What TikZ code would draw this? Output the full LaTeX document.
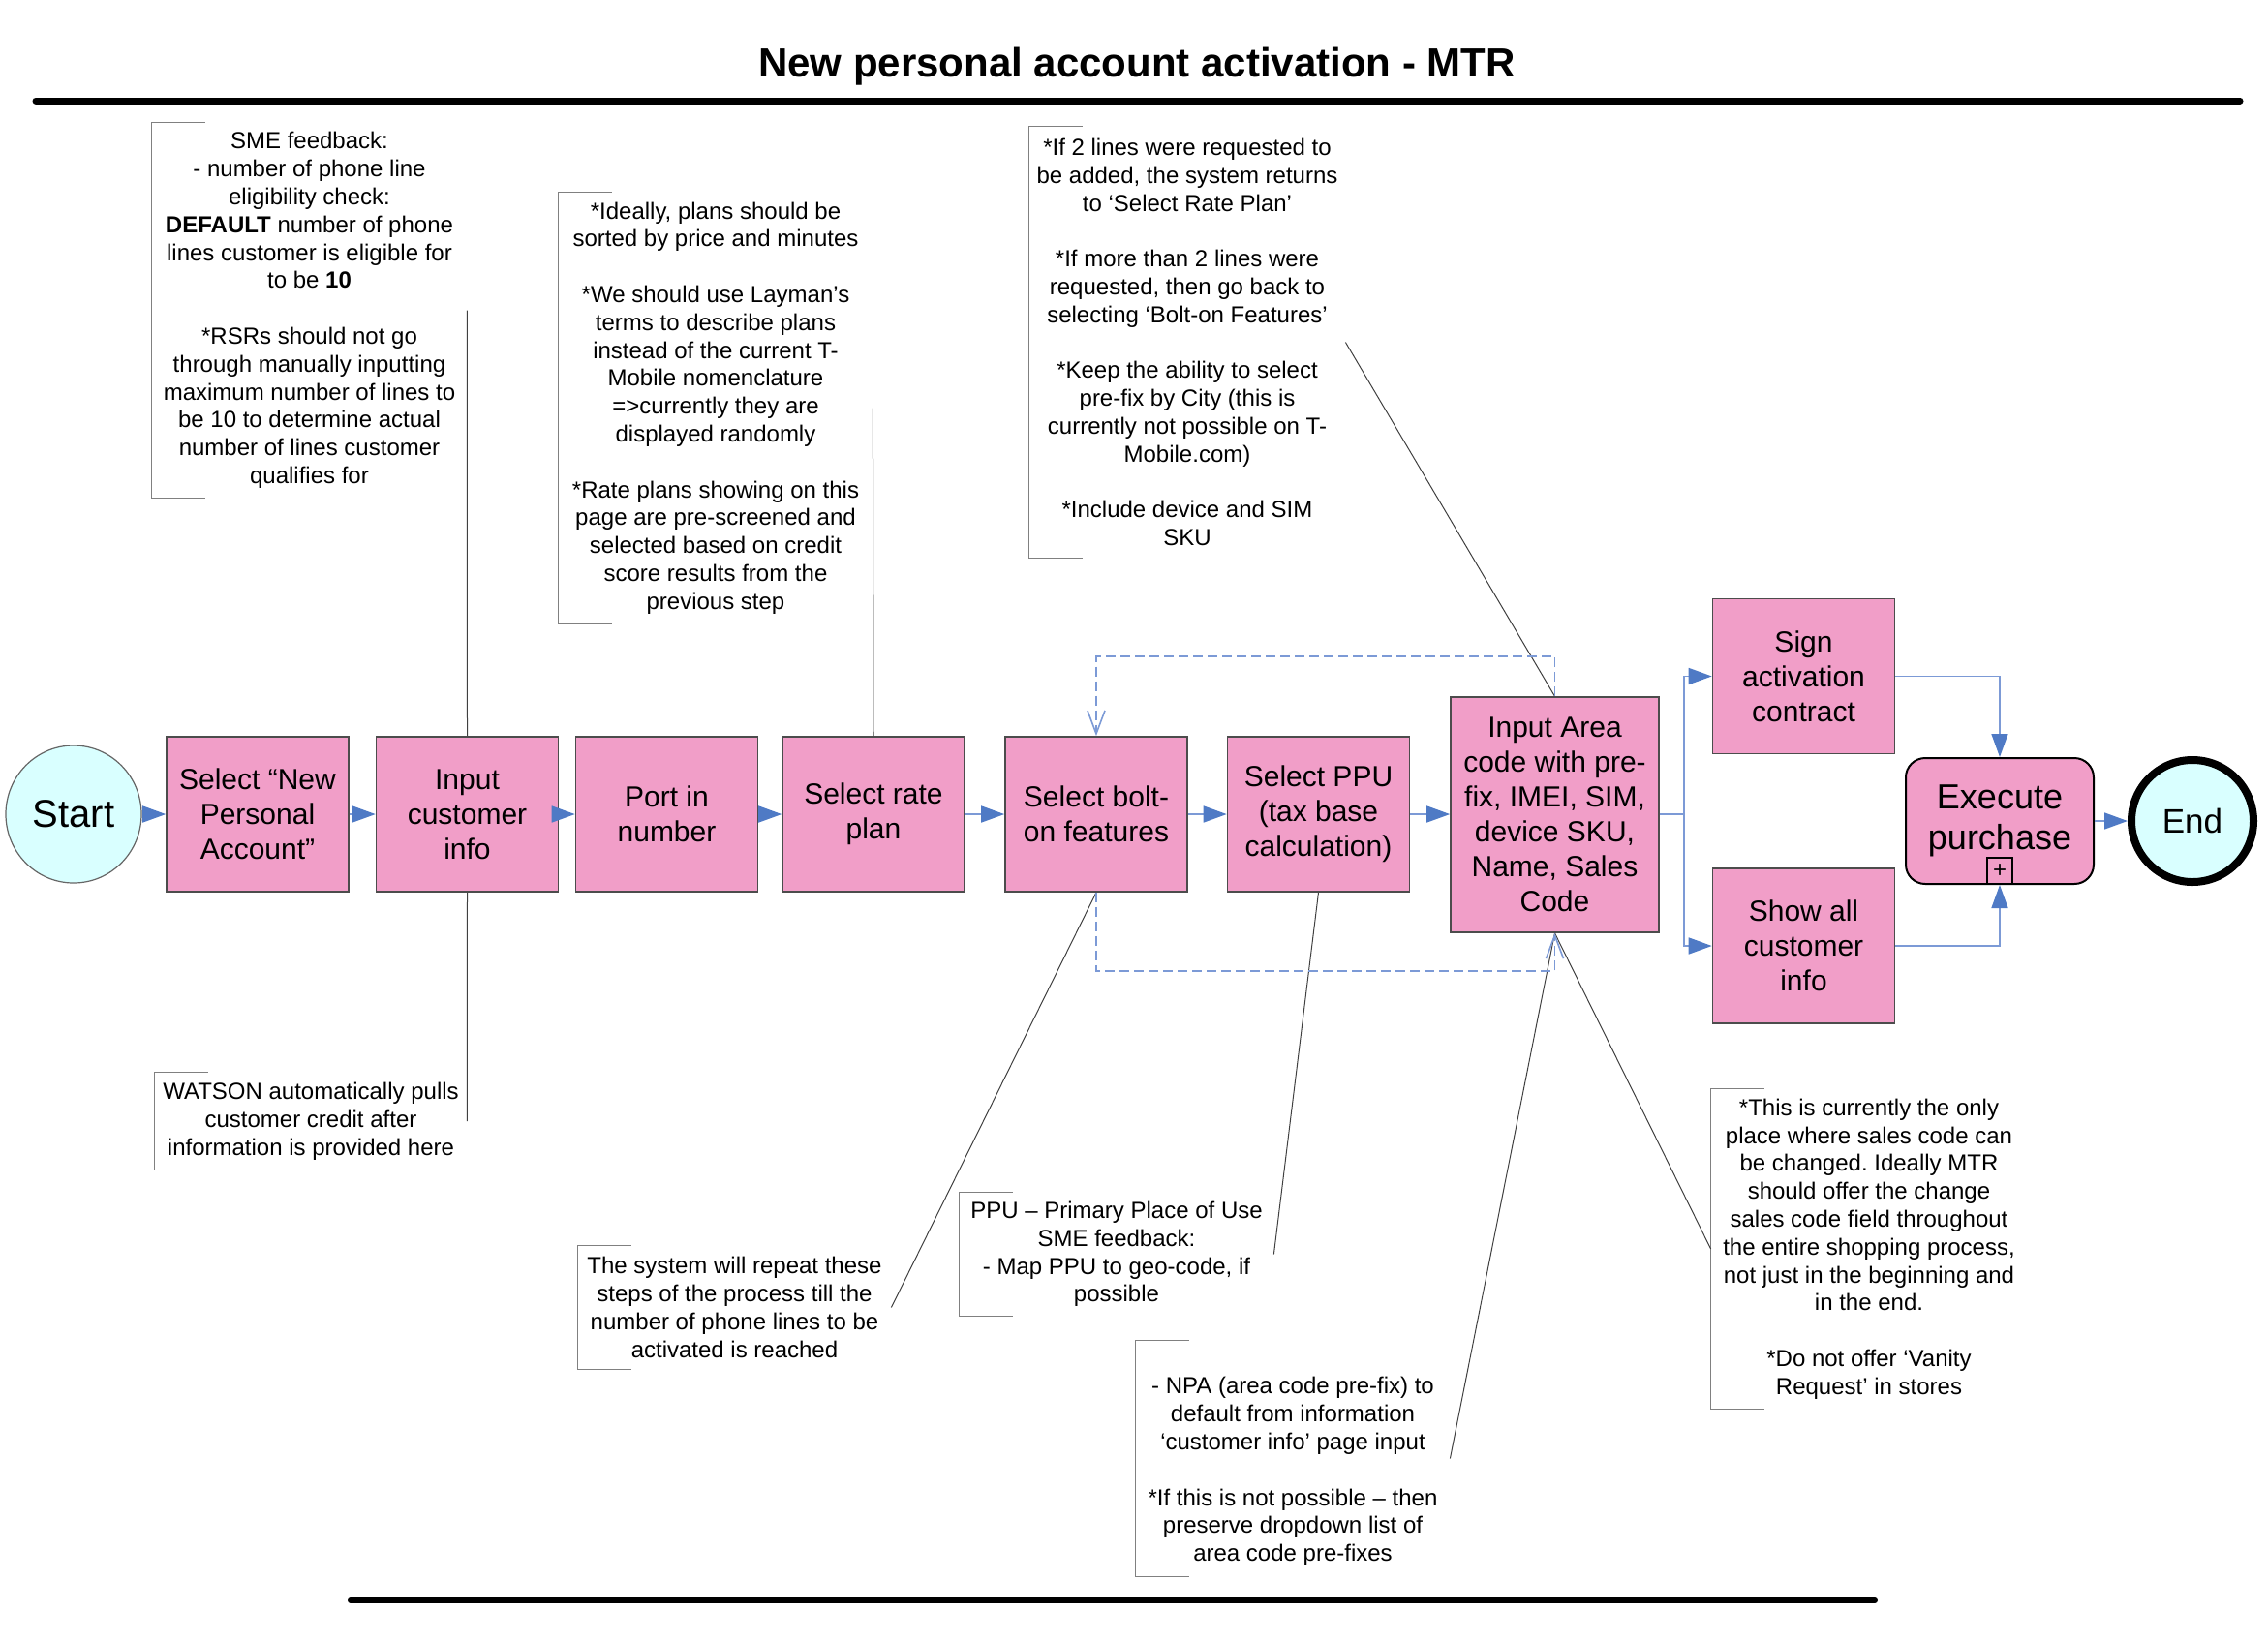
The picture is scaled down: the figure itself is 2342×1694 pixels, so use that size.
\documentclass[tikz,border=0pt]{standalone}
\usepackage{fontspec}
\setmainfont{Liberation Sans}
\usetikzlibrary{arrows.meta,shapes.geometric}
\definecolor{taskpink}{RGB}{241,158,200}
\definecolor{startcyan}{RGB}{217,255,255}
\definecolor{flowline}{RGB}{124,154,214}
\definecolor{flowtip}{RGB}{79,122,197}
\tikzset{
  task/.style={draw=black!70, line width=0.8pt, fill=taskpink, align=center,
    font=\fontsize{15}{18}\selectfont, inner sep=0pt, minimum height=80pt, minimum width=94pt},
  anno/.style={align=center, font=\fontsize{12}{14.4}\selectfont, inner sep=0pt},
  bracket/.style={draw=black!50, line width=0.8pt},
  assoc/.style={draw=black!75, line width=0.5pt},
  flow/.style={draw=flowline, line width=0.8pt, -{Triangle[length=12pt,width=8.5pt,color=flowtip]}},
  flowplain/.style={draw=flowline, line width=0.8pt},
  loopflow/.style={draw=flowline, line width=0.8pt, dash pattern=on 5pt off 2.5pt,
    -{Straight Barb[length=12pt,width=9pt]}},
}
\frenchspacing
\begin{document}
\begin{tikzpicture}[x=0.5pt,y=-0.5pt]
\useasboundingbox (0,0) rectangle (2342,1694);
% title and rules
\node[anchor=base, font=\fontsize{21}{25}\selectfont\bfseries, inner sep=0pt] (title) at (1174,79) {New personal account activation - MTR};
\draw[line width=3.5pt, line cap=round] (37,104) -- (2313,104);
\draw[line width=3pt, line cap=round] (362,1653) -- (1936,1653);

% events
\node[ellipse, draw=black!60, line width=0.6pt, fill=startcyan, minimum width=70pt, minimum height=71pt, inner sep=0pt, font=\fontsize{20}{24}\selectfont] (start) at (76,841) {Start};
\node[circle, draw=black, line width=4pt, fill=startcyan, minimum size=63pt, inner sep=0pt, font=\fontsize{17.5}{21}\selectfont] (end) at (2264,848) {End};

% tasks
\node[task] (sel) at (266,841) {Select “New\\Personal\\Account”};
\node[task] (inp) at (482.5,841) {Input\\customer\\info};
\node[task] (port) at (688.5,841) {Port in\\number};
\node[task] (rate) at (902,841) {Select rate\\plan};
\node[task] (bolt) at (1132,841) {Select bolt-\\on features};
\node[task] (ppu) at (1361.5,841) {Select PPU\\(tax base\\calculation)};
\node[task, minimum width=107.5pt, minimum height=121.5pt] (area) at (1605.5,841.5) {Input Area\\code with pre-\\fix, IMEI, SIM,\\device SKU,\\Name, Sales\\Code};
\node[task] (sign) at (1862.5,698.5) {Sign\\activation\\contract};
\node[task] (show) at (1862.5,977) {Show all\\customer\\info};
\node[task, draw=black, line width=1pt, rounded corners=10pt, minimum width=97pt, minimum height=65pt, font=\fontsize{18}{21}\selectfont] (exec) at (2065,848) {Execute\\purchase};
\node[draw=black, line width=0.8pt, minimum width=13pt, minimum height=13.5pt, inner sep=0pt, anchor=south, font=\fontsize{12}{12}\selectfont] (plus) at (exec.south) {+};

% annotations
\node[anno, minimum width=162.5pt, minimum height=193.5pt] (sme) at (319.5,320.5) {SME feedback:\\- number of phone line\\eligibility check:\\\textbf{DEFAULT} number of phone\\lines customer is eligible for\\to be \textbf{10}\\[14.4pt]*RSRs should not go\\through manually inputting\\maximum number of lines to\\be 10 to determine actual\\number of lines customer\\qualifies for};
\node[anno, minimum width=161pt, minimum height=50pt] (watson) at (321,1158) {WATSON automatically pulls\\customer credit after\\information is provided here};
\node[anno, minimum width=162pt, minimum height=222.5pt] (rates) at (739,421.5) {*Ideally, plans should be\\sorted by price and minutes\\[14.4pt]*We should use Layman’s\\terms to describe plans\\instead of the current T-\\Mobile nomenclature\\=>currently they are\\displayed randomly\\[14.4pt]*Rate plans showing on this\\page are pre-screened and\\selected based on credit\\score results from the\\previous step};
\node[anno, minimum width=163pt, minimum height=222.5pt] (top) at (1226,353.5) {*If 2 lines were requested to\\be added, the system returns\\to ‘Select Rate Plan’\\[14.4pt]*If more than 2 lines were\\requested, then go back to\\selecting ‘Bolt-on Features’\\[14.4pt]*Keep the ability to select\\pre-fix by City (this is\\currently not possible on T-\\Mobile.com)\\[14.4pt]*Include device and SIM\\SKU};
\node[anno, minimum width=161.5pt, minimum height=63.5pt] (repeat) at (758.5,1350.5) {The system will repeat these\\steps of the process till the\\number of phone lines to be\\activated is reached};
\node[anno, minimum width=162pt, minimum height=63.5pt] (ppun) at (1153,1295.5) {PPU – Primary Place of Use\\SME feedback:\\- Map PPU to geo-code, if\\possible};
\node[anno, minimum width=162pt, minimum height=121.5pt] (npa) at (1335,1506.5) {};
\node[anno] (npatext) at (1335,1520) {- NPA (area code pre-fix) to\\default from information\\‘customer info’ page input\\[14.4pt]*If this is not possible – then\\preserve dropdown list of\\area code pre-fixes};
\node[anno, minimum width=163pt, minimum height=165pt] (sales) at (1930,1290) {*This is currently the only\\place where sales code can\\be changed. Ideally MTR\\should offer the change\\sales code field throughout\\the entire shopping process,\\not just in the beginning and\\in the end.\\[14.4pt]*Do not offer ‘Vanity\\Request’ in stores};

% brackets
\foreach \n in {sme,watson,rates,top,repeat,ppun,npa,sales}{
  \draw[bracket] ([xshift=27.5pt]\n.north west) -- (\n.north west) -- (\n.south west) -- ([xshift=27.5pt]\n.south west);
}

% associations
\draw[assoc] (inp.north) -- (sme.east);
\draw[assoc] (inp.south) -- (watson.east);
\draw[assoc] (rate.north) -- (rates.east);
\draw[assoc] (area.north) -- (top.east);
\draw[assoc] (bolt.south) -- (repeat.east);
\draw[assoc] (ppu.south) -- (ppun.east);
\draw[assoc] (area.south) -- (npa.east);
\draw[assoc] (area.south) -- (sales.west);

% sequence flows
\draw[flow] (start.east) -- (sel.west);
\draw[flow] (sel) -- (inp);
\draw[flow] (inp) -- (port);
\draw[flow] (port) -- (rate);
\draw[flow] (rate) -- (bolt);
\draw[flow] (bolt) -- (ppu);
\draw[flow] (ppu.east) -- (area.west |- ppu.east);
\coordinate (br) at (1739,841);
\draw[flowplain] (area.east |- br) -- (br);
\draw[flow] (br) |- (sign.west);
\draw[flow] (br) |- (show.west);
\draw[flow] (sign.east) -| (exec.north);
\draw[flow] (show.east) -| (plus.south);
\draw[flow] (exec.east) -- (end.west);

% loops
\draw[loopflow] (area.north) -- ++(0,-41) -| (bolt.north);
\draw[loopflow] (bolt.south) -- ++(0,81) -| (area.south);
\end{tikzpicture}
\end{document}
